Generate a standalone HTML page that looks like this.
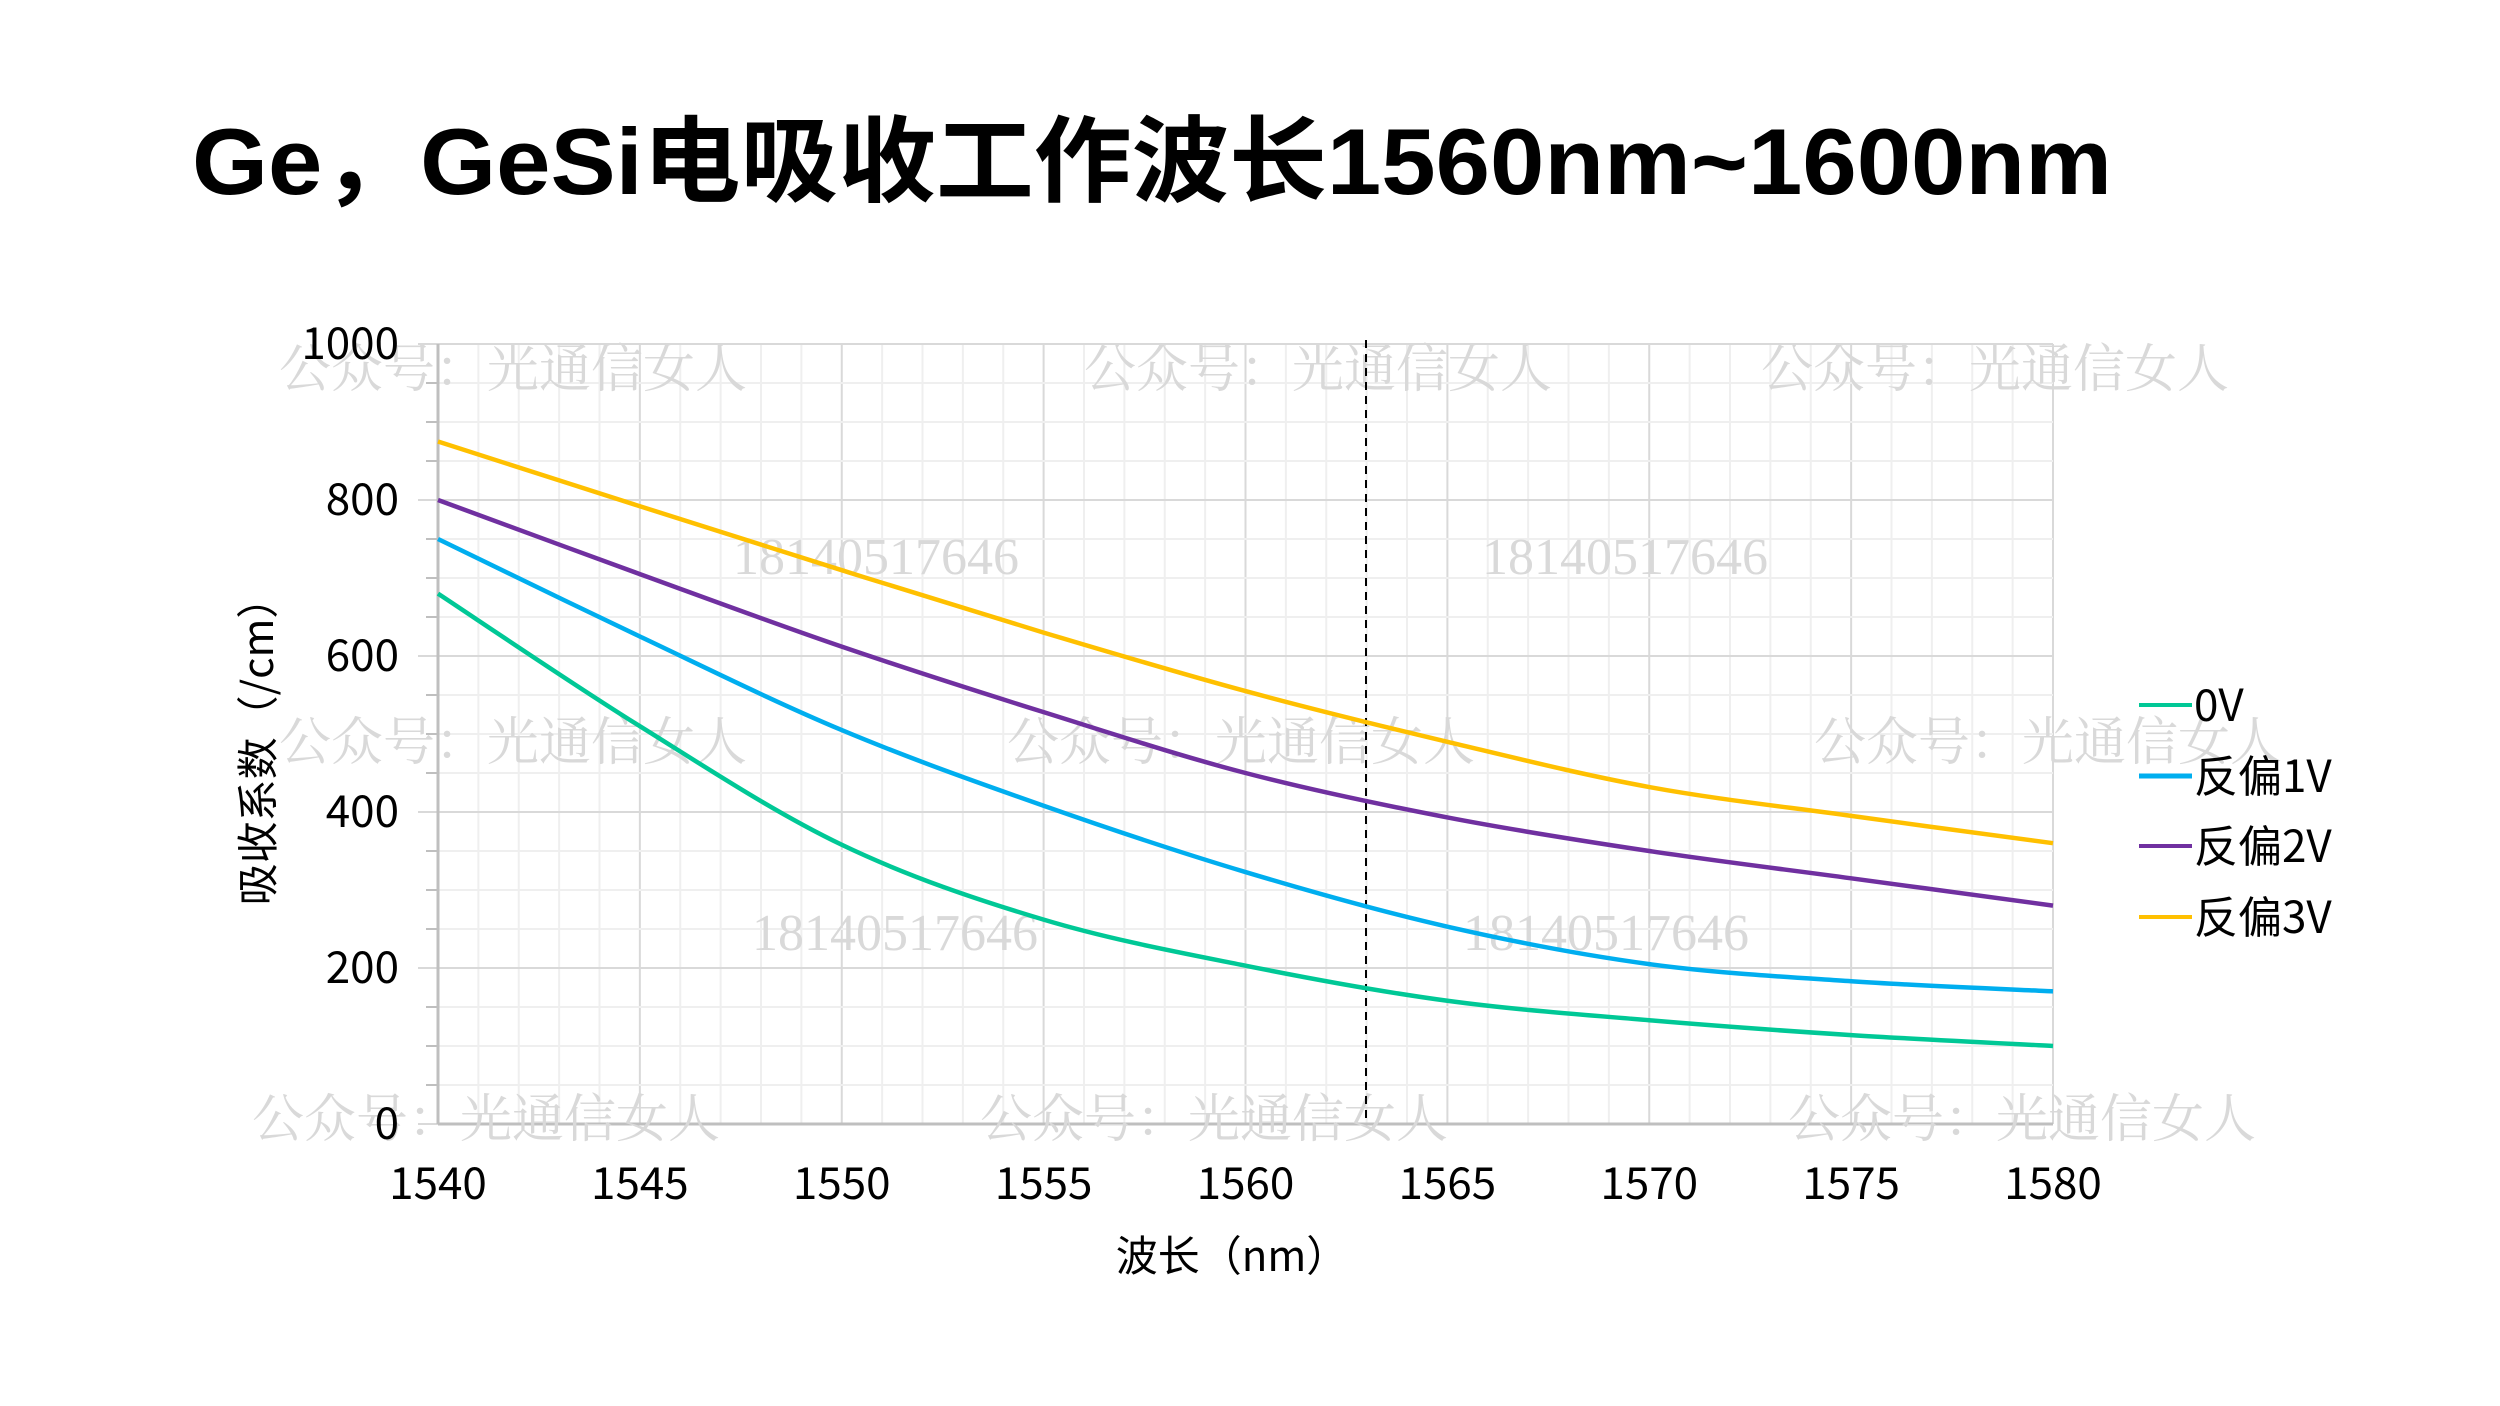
<!DOCTYPE html>
<html><head><meta charset="utf-8"><style>
html,body{margin:0;padding:0;background:#fff;}
svg{display:block;}
</style></head><body>
<svg id="s" xmlns="http://www.w3.org/2000/svg" width="2500" height="1406" viewBox="0 0 2500 1406">
<rect width="2500" height="1406" fill="#fff"/>
<text x="192" y="194" font-family="'Liberation Sans','Noto Sans CJK SC',sans-serif" font-weight="bold" font-size="94" textLength="1920" lengthAdjust="spacingAndGlyphs" fill="#000">Ge，GeSi电吸收工作波长1560nm~1600nm</text>
<g id="grid"></g>
<g id="wm" font-family="'Liberation Serif','Noto Serif CJK SC',serif" font-size="52" fill="#d9d9d9">
<text x="279" y="387">公众号：光通信女人</text>
<text x="1084" y="387">公众号：光通信女人</text>
<text x="1761" y="387">公众号：光通信女人</text>
<text x="279" y="760">公众号：光通信女人</text>
<text x="1007" y="760">公众号：光通信女人</text>
<text x="1814" y="760">公众号：光通信女人</text>
<text x="252" y="1137">公众号：光通信女人</text>
<text x="980" y="1137">公众号：光通信女人</text>
<text x="1788" y="1137">公众号：光通信女人</text>
<text x="733" y="574">18140517646</text>
<text x="1482" y="574">18140517646</text>
<text x="752" y="950">18140517646</text>
<text x="1463" y="950">18140517646</text>
</g>
<line x1="1366" y1="340" x2="1366" y2="1124" stroke="#000" stroke-width="2" stroke-dasharray="8,6"/>
<g id="curves" fill="none" stroke-width="4.5"></g>
<g id="labels" font-family="'Noto Sans CJK SC','Liberation Sans',sans-serif" font-size="44" fill="#000"></g>
<text x="1232" y="1271" text-anchor="middle" font-family="'Noto Sans CJK SC','Liberation Sans',sans-serif" font-size="42">波长（nm）</text>
<text transform="translate(273,741) rotate(-90)" text-anchor="middle" font-family="'Noto Sans CJK SC','Liberation Sans',sans-serif" font-size="42">吸收系数（/cm）</text>
<g font-family="'Noto Sans CJK SC','Liberation Sans',sans-serif" font-size="44" fill="#000">
<line x1="2139" y1="705" x2="2192" y2="705" stroke="#00c896" stroke-width="4"/><text x="2194" y="721">0V</text>
<line x1="2139" y1="776" x2="2192" y2="776" stroke="#00aeef" stroke-width="5"/><text x="2194" y="792">反偏1V</text>
<line x1="2139" y1="846" x2="2192" y2="846" stroke="#7030a0" stroke-width="4"/><text x="2194" y="862">反偏2V</text>
<line x1="2139" y1="917" x2="2192" y2="917" stroke="#ffc000" stroke-width="4"/><text x="2194" y="933">反偏3V</text>
</g>
</svg>
<script>
var L=438,R=2053,T=344,B=1124;
function X(w){return L+(w-1540)*(R-L)/40;}
function Y(v){return B-v*(B-T)/1000;}
var g=document.getElementById('grid'),h='';
for(var w=1540;w<=1580;w++){var x=X(w);h+='<line x1="'+x+'" y1="'+T+'" x2="'+x+'" y2="'+B+'" stroke="'+(w%5?'#efefef':'#d9d9d9')+'" stroke-width="2"/>';}
for(var v=0;v<=1000;v+=50){var y=Y(v);h+='<line x1="'+(L-(v%200?12:20))+'" y1="'+y+'" x2="'+R+'" y2="'+y+'" stroke="'+(v%200?'#efefef':'#d9d9d9')+'" stroke-width="2"/>';
if(v%200) h+='<line x1="'+(L-12)+'" y1="'+y+'" x2="'+L+'" y2="'+y+'" stroke="#bfbfbf" stroke-width="2"/>';}
h+='<line x1="'+L+'" y1="'+T+'" x2="'+L+'" y2="'+B+'" stroke="#bfbfbf" stroke-width="3"/>';
h+='<line x1="'+L+'" y1="'+B+'" x2="'+R+'" y2="'+B+'" stroke="#bfbfbf" stroke-width="3"/>';
g.innerHTML=h;
var lb='';
for(var w=1540;w<=1580;w+=5)lb+='<text x="'+X(w)+'" y="1199" text-anchor="middle">'+w+'</text>';
for(var v=0;v<=1000;v+=200)lb+='<text x="399" y="'+(Y(v)+15)+'" text-anchor="end">'+v+'</text>';
document.getElementById('labels').innerHTML=lb;
var xs=[1540,1545,1550,1555,1560,1565,1570,1575,1580];
var D=[["#ffc000",[875,792,710,630,555,490,432,395,360]],
["#7030a0",[800,705,612,528,450,393,350,315,280]],
["#00aeef",[750,625,505,408,323,253,205,183,170]],
["#00c896",[680,510,358,262,203,158,133,114,100]]];
var c='';
D.forEach(function(d){var p=xs.map(function(w,i){return [X(w),Y(d[1][i])];});
var s='M'+p[0][0]+','+p[0][1];
for(var i=0;i<p.length-1;i++){var p0=p[Math.max(i-1,0)],p1=p[i],p2=p[i+1],p3=p[Math.min(i+2,p.length-1)];
s+=' C'+(p1[0]+(p2[0]-p0[0])/6)+','+(p1[1]+(p2[1]-p0[1])/6)+' '+(p2[0]-(p3[0]-p1[0])/6)+','+(p2[1]-(p3[1]-p1[1])/6)+' '+p2[0]+','+p2[1];}
c+='<path d="'+s+'" stroke="'+d[0]+'"/>';});
document.getElementById('curves').innerHTML=c;
</script>
</body></html>
